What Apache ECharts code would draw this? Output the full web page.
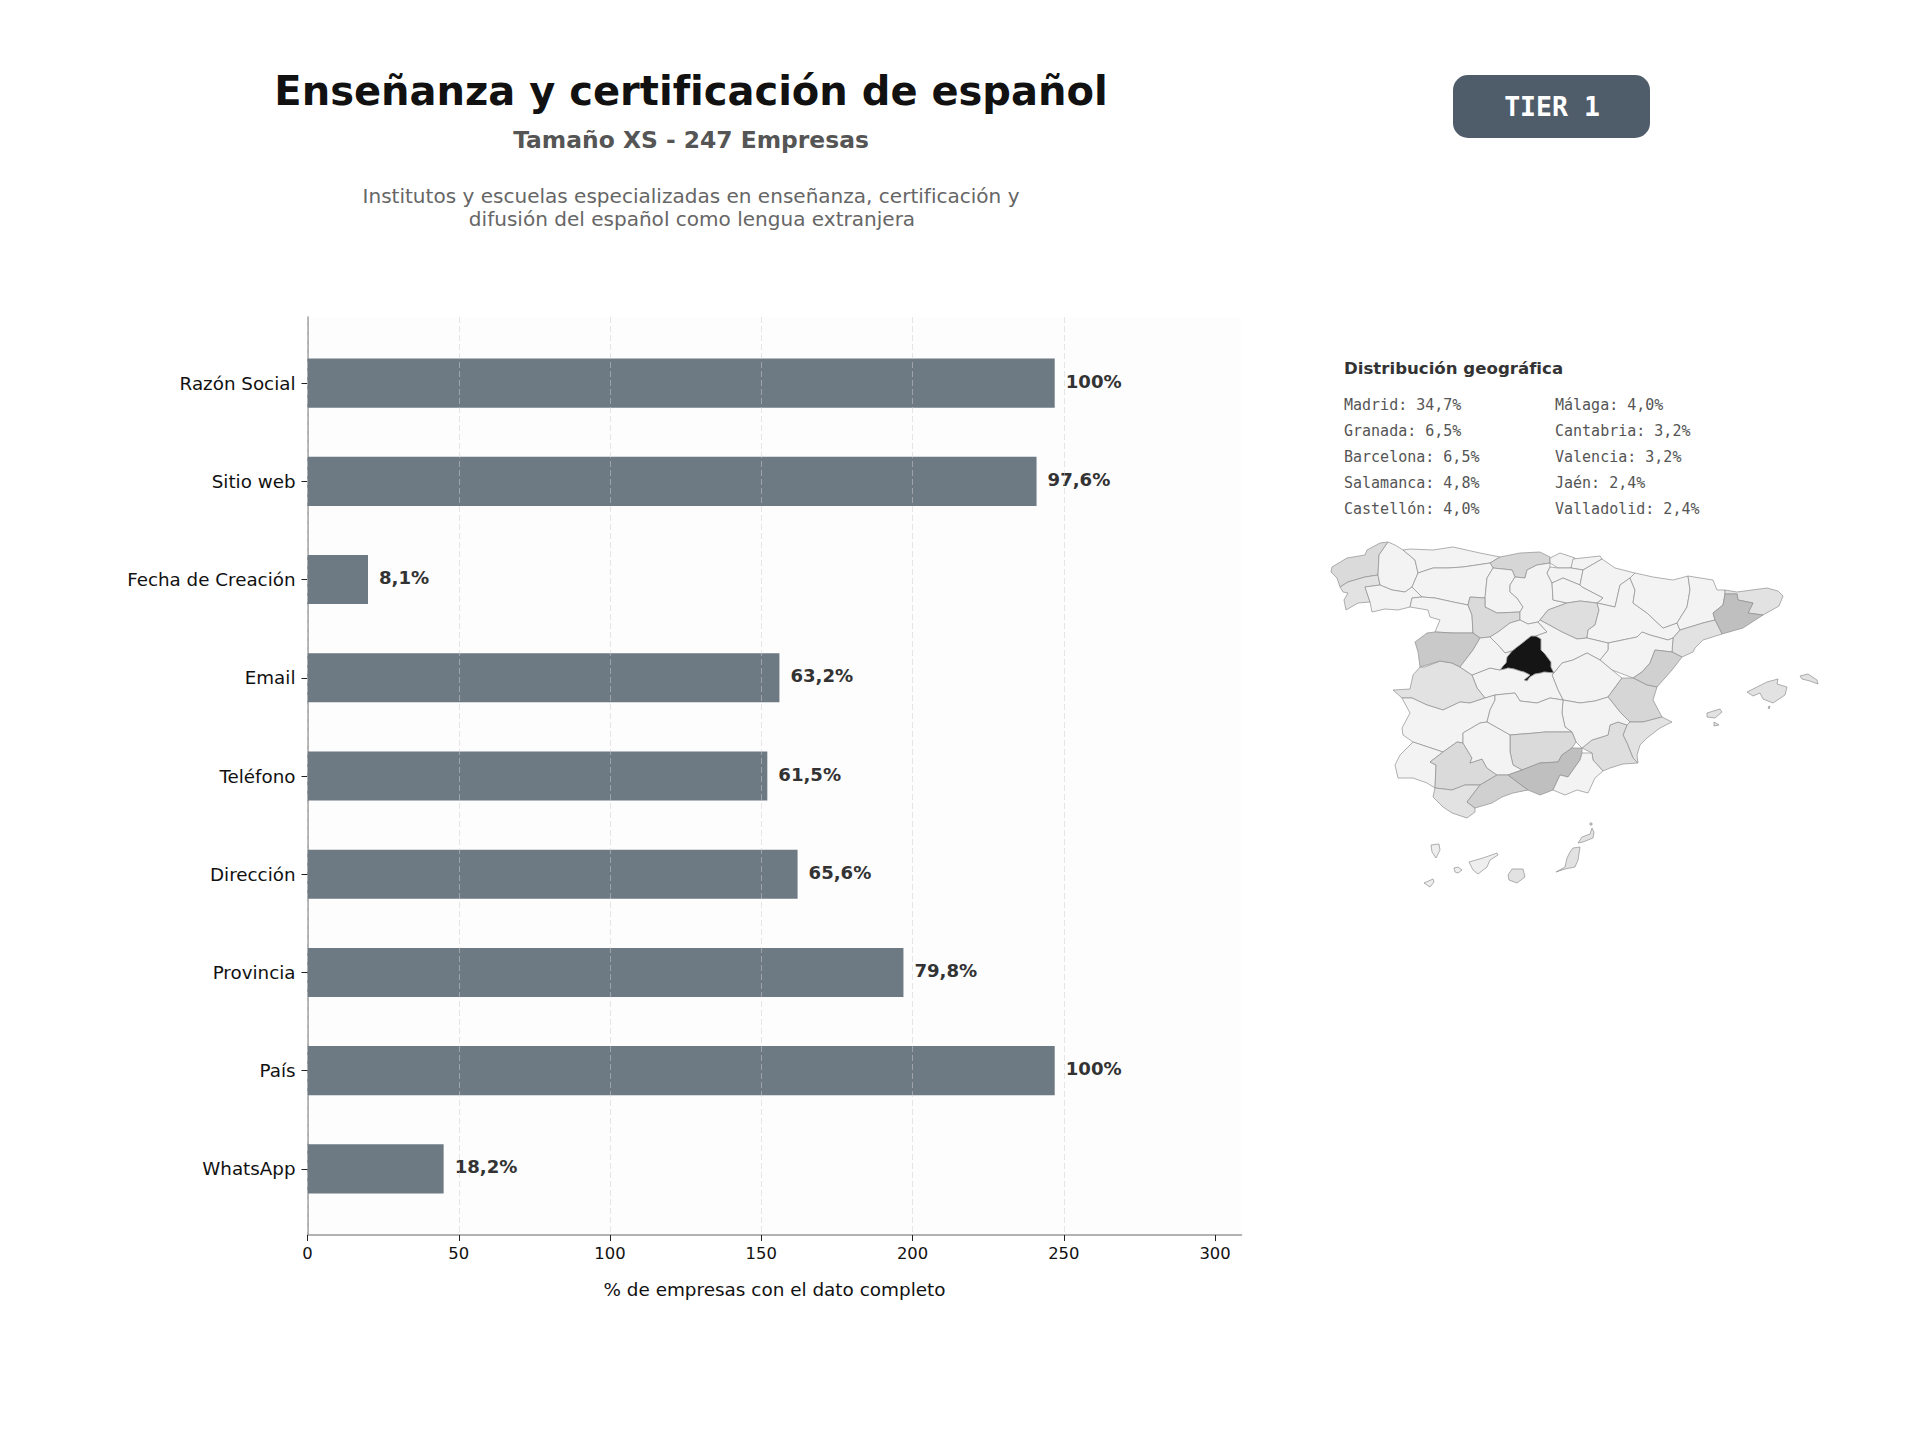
<!DOCTYPE html>
<html lang="es">
<head>
<meta charset="utf-8">
<title>Enseñanza y certificación de español</title>
<style>html,body{margin:0;padding:0;background:#fff}#c{width:1920px;height:1440px}</style>
<script src="https://cdn.jsdelivr.net/npm/echarts@6/dist/echarts.min.js"></script>
</head>
<body>
<div id="c"></div>
<script>
const categories = ['Razón Social','Sitio web','Fecha de Creación','Email','Teléfono','Dirección','Provincia','País','WhatsApp'];
const companyCounts = [247,241,20,156,152,162,197,247,45];
const percentLabels = ['100%','97,6%','8,1%','63,2%','61,5%','65,6%','79,8%','100%','18,2%'];
const xTicks = [0,50,100,150,200,250,300];
const xMax = 308.75;

const topLeft = ['Madrid: 34,7%','Granada: 6,5%','Barcelona: 6,5%','Salamanca: 4,8%','Castellón: 4,0%'];
const topRight = ['Málaga: 4,0%','Cantabria: 3,2%','Valencia: 3,2%','Jaén: 2,4%','Valladolid: 2,4%'];

const provinceShares = {
  'Madrid':34.7,'Granada':6.5,'Barcelona':6.5,'Salamanca':4.8,'Castellón':4.0,'Málaga':4.0,'Cantabria':3.2,'Valencia':3.2,
  'Jaén':2.4,'Valladolid':2.4,'A Coruña':2.4,'Sevilla':2.4,'Soria':2.0,'Murcia':2.0,'Pontevedra':1.6,'Cáceres':1.6,'Alicante':1.6,
  'Baleares':1.6,'Girona':1.6,'Tarragona':1.6,'Cádiz':1.6,'Las Palmas':1.6,'Tenerife':0.8
};
const greyPieces = [
  {gte:30,color:'#151515'},{gte:6,lt:30,color:'#bfbfbf'},{gte:4.5,lt:6,color:'#c9c9c9'},{gte:3.8,lt:4.5,color:'#d0d0d0'},
  {gte:3,lt:3.8,color:'#d6d6d6'},{gte:2.2,lt:3,color:'#dadada'},{gte:1.8,lt:2.2,color:'#dedede'},{gte:1.2,lt:1.8,color:'#e2e2e2'},
  {gte:0.5,lt:1.2,color:'#eeeeee'},{lt:0.5,color:'#f3f3f3'}
];

/* Outlines of the provinces (map geometry only) */
const provinceOutlines = {
  'A Coruña':[[[1388,542],[1380,543],[1367,550],[1365,555],[1347,558],[1332,567],[1331,572],[1337,578],[1340,587],[1348,582],[1365,577],[1378,575],[1379,555]]],
  'Pontevedra':[[[1340,587],[1348,582],[1365,577],[1378,575],[1380,585],[1365,587],[1370,602],[1358,603],[1346,610],[1344,600],[1348,593],[1343,592]]],
  'Lugo':[[[1388,542],[1379,555],[1378,575],[1380,585],[1392,590],[1405,592],[1412,587],[1418,573],[1415,560],[1403,550],[1395,545]]],
  'Asturias':[[[1403,550],[1415,560],[1418,573],[1433,568],[1448,568],[1463,567],[1490,563],[1500,557],[1480,553],[1453,547],[1433,550],[1410,549]]],
  'Cantabria':[[[1490,563],[1500,557],[1520,553],[1540,552],[1550,557],[1550,563],[1537,565],[1527,570],[1525,578],[1515,577],[1512,570],[1493,568]]],
  'Ourense':[[[1365,587],[1380,585],[1392,590],[1405,592],[1412,587],[1422,597],[1412,598],[1410,607],[1398,610],[1385,609],[1372,612],[1370,602]]],
  'León':[[[1418,573],[1433,568],[1448,568],[1463,567],[1490,563],[1493,568],[1487,578],[1485,598],[1470,597],[1468,605],[1453,602],[1435,598],[1422,597],[1412,587]]],
  'Zamora':[[[1412,598],[1422,597],[1435,598],[1453,602],[1468,605],[1472,615],[1473,633],[1453,633],[1435,632],[1440,620],[1430,617],[1428,610],[1410,607]]],
  'Palencia':[[[1493,568],[1487,578],[1485,598],[1485,607],[1497,613],[1520,612],[1523,607],[1517,598],[1510,592],[1510,585],[1515,577],[1512,570]]],
  'Valladolid':[[[1470,597],[1485,598],[1485,607],[1497,613],[1520,612],[1520,620],[1510,623],[1498,632],[1490,637],[1480,638],[1473,633],[1472,615],[1468,605]]],
  'Burgos':[[[1515,577],[1525,578],[1527,570],[1537,565],[1550,563],[1550,567],[1547,573],[1552,583],[1553,600],[1567,603],[1548,610],[1540,620],[1538,622],[1528,624],[1520,620],[1520,612],[1523,607],[1517,598],[1510,592],[1510,585]]],
  'Bizkaia':[[[1550,558],[1560,553],[1575,558],[1571,568],[1558,568],[1550,563]]],
  'Gipuzkoa':[[[1573,559],[1600,556],[1602,559],[1583,570],[1571,568]]],
  'Álava':[[[1547,573],[1550,567],[1558,568],[1571,568],[1583,570],[1580,585],[1563,578],[1552,583]]],
  'Navarra':[[[1583,570],[1602,559],[1615,568],[1635,573],[1630,578],[1620,585],[1615,607],[1597,603],[1603,598],[1582,587],[1580,585]]],
  'La Rioja':[[[1552,583],[1563,578],[1580,585],[1582,587],[1603,598],[1597,603],[1580,601],[1567,603],[1553,600]]],
  'Soria':[[[1567,603],[1580,601],[1597,603],[1599,610],[1595,625],[1588,630],[1587,638],[1577,639],[1562,632],[1540,620],[1548,610]]],
  'Zaragoza':[[[1615,607],[1620,585],[1630,578],[1635,590],[1633,603],[1647,613],[1663,628],[1677,623],[1680,630],[1673,638],[1668,640],[1650,635],[1642,632],[1637,637],[1608,643],[1587,638],[1588,630],[1595,625],[1599,610],[1597,603]]],
  'Huesca':[[[1635,573],[1653,577],[1673,580],[1688,576],[1690,590],[1687,607],[1677,623],[1663,628],[1647,613],[1633,603],[1635,590],[1630,578]]],
  'Lleida':[[[1688,576],[1713,580],[1717,590],[1725,590],[1725,594],[1723,605],[1713,613],[1715,620],[1703,623],[1680,630],[1677,623],[1687,607],[1690,590]]],
  'Girona':[[[1725,590],[1737,592],[1767,588],[1778,591],[1783,596],[1779,606],[1763,615],[1748,613],[1753,603],[1738,600],[1737,594],[1725,594]]],
  'Barcelona':[[[1725,594],[1737,594],[1738,600],[1753,603],[1748,613],[1763,615],[1743,628],[1722,634],[1715,620],[1713,613],[1723,605]]],
  'Tarragona':[[[1680,630],[1703,623],[1715,620],[1722,634],[1703,640],[1695,648],[1693,652],[1682,657],[1672,652],[1673,638]]],
  'Teruel':[[[1608,643],[1637,637],[1642,632],[1650,635],[1668,640],[1673,638],[1672,652],[1655,650],[1650,663],[1642,672],[1633,678],[1620,673],[1612,670],[1600,660],[1608,650]]],
  'Castellón':[[[1655,650],[1672,652],[1682,657],[1672,670],[1657,687],[1647,685],[1633,678],[1642,672],[1650,663]]],
  'Madrid':[[[1536,636],[1541,639],[1541,646],[1541,650],[1545,654],[1548,658],[1551,662],[1551,667],[1554,673],[1544,672],[1541,673],[1535,674],[1530,677],[1527,681],[1524,680],[1530,675],[1524,672],[1520,671],[1514,669],[1508,668],[1505,669],[1500,670],[1503,666],[1506,663],[1507,657],[1512,651],[1517,647],[1521,644],[1526,640],[1531,636]]],
  'Segovia':[[[1490,637],[1498,632],[1510,623],[1520,620],[1528,624],[1538,622],[1547,632],[1536,636],[1531,636],[1526,640],[1521,644],[1517,647],[1512,651],[1505,653],[1498,645]]],
  'Guadalajara':[[[1538,622],[1540,620],[1562,632],[1577,639],[1587,638],[1608,643],[1608,650],[1600,660],[1587,653],[1573,660],[1562,663],[1554,673],[1551,667],[1551,662],[1548,658],[1545,654],[1541,650],[1541,646],[1541,639],[1536,636],[1547,632]]],
  'Cuenca':[[[1562,663],[1573,660],[1587,653],[1600,660],[1612,670],[1622,678],[1608,697],[1595,701],[1580,703],[1563,700],[1558,690],[1552,675],[1554,673]]],
  'Valencia':[[[1622,678],[1633,678],[1647,685],[1657,687],[1653,700],[1662,717],[1643,722],[1630,722],[1620,712],[1608,697]]],
  'Alicante':[[[1630,722],[1643,722],[1662,717],[1672,722],[1660,728],[1647,738],[1640,745],[1637,755],[1638,763],[1633,758],[1627,743],[1623,735],[1627,725]]],
  'Murcia':[[[1582,748],[1592,740],[1608,735],[1610,725],[1618,722],[1627,725],[1623,735],[1627,743],[1633,758],[1638,763],[1623,764],[1610,768],[1603,771],[1593,760],[1592,753]]],
  'Albacete':[[[1563,700],[1580,703],[1595,701],[1608,697],[1620,712],[1630,722],[1627,725],[1618,722],[1610,725],[1608,735],[1592,740],[1582,748],[1576,742],[1572,732],[1565,727],[1562,713]]],
  'Toledo':[[[1472,675],[1490,668],[1500,670],[1505,669],[1508,668],[1514,669],[1520,671],[1524,672],[1530,675],[1524,680],[1527,681],[1530,677],[1535,674],[1541,673],[1544,672],[1554,673],[1552,675],[1558,690],[1563,700],[1550,698],[1537,703],[1520,701],[1515,693],[1495,695],[1485,698],[1477,688]]],
  'Cáceres':[[[1393,690],[1410,689],[1413,675],[1420,667],[1425,667],[1440,661],[1452,663],[1460,667],[1472,675],[1477,688],[1485,698],[1470,703],[1460,702],[1443,710],[1427,705],[1412,698],[1402,698]]],
  'Salamanca':[[[1415,642],[1427,633],[1435,632],[1453,633],[1473,633],[1480,638],[1473,650],[1460,667],[1452,663],[1440,661],[1420,667],[1418,652]]],
  'Ávila':[[[1473,650],[1480,638],[1490,637],[1498,645],[1505,653],[1512,651],[1507,657],[1506,663],[1503,666],[1500,670],[1490,668],[1472,675],[1460,667]]],
  'Badajoz':[[[1402,698],[1412,698],[1427,705],[1443,710],[1460,702],[1470,703],[1485,698],[1495,695],[1495,700],[1490,710],[1487,722],[1480,723],[1463,733],[1463,743],[1457,742],[1443,752],[1413,742],[1403,735],[1402,728],[1410,713]]],
  'Ciudad Real':[[[1495,695],[1515,693],[1520,701],[1537,703],[1550,698],[1563,700],[1562,713],[1565,727],[1572,732],[1545,732],[1535,733],[1510,735],[1487,722],[1490,710],[1495,700]]],
  'Jaén':[[[1510,735],[1535,733],[1545,732],[1572,732],[1576,742],[1572,748],[1562,755],[1558,762],[1540,763],[1522,770],[1513,765],[1510,752]]],
  'Huelva':[[[1395,765],[1400,755],[1413,742],[1443,752],[1430,762],[1436,765],[1435,788],[1427,783],[1413,778],[1398,778]]],
  'Sevilla':[[[1443,752],[1457,742],[1463,743],[1472,758],[1470,763],[1482,759],[1487,768],[1497,775],[1480,785],[1465,785],[1452,790],[1435,788],[1436,765],[1430,762]]],
  'Córdoba':[[[1463,733],[1480,723],[1487,722],[1510,735],[1510,752],[1513,765],[1522,770],[1508,775],[1497,775],[1487,768],[1482,759],[1470,763],[1472,758],[1463,743]]],
  'Cádiz':[[[1435,788],[1452,790],[1465,785],[1480,785],[1467,802],[1475,808],[1475,812],[1467,818],[1452,813],[1443,807],[1433,797]]],
  'Málaga':[[[1480,785],[1497,775],[1508,775],[1528,790],[1513,793],[1502,797],[1492,803],[1475,808],[1467,802]]],
  'Granada':[[[1508,775],[1522,770],[1540,763],[1558,762],[1562,755],[1572,748],[1582,748],[1582,753],[1580,760],[1568,777],[1560,775],[1553,790],[1540,795],[1528,790]]],
  'Almería':[[[1582,753],[1592,753],[1593,760],[1603,771],[1595,778],[1588,793],[1577,790],[1565,795],[1553,790],[1560,775],[1568,777],[1580,760]]],
  'Baleares':[
    [[1747,692],[1767,682],[1778,679],[1777,684],[1787,687],[1785,695],[1773,703],[1763,699],[1760,693],[1753,696]],
    [[1800,676],[1808,674],[1817,680],[1818,684],[1810,681],[1802,679]],
    [[1707,713],[1720,709],[1722,712],[1715,718],[1707,717]],
    [[1714,722],[1719,725],[1714,726]],
    [[1768,707],[1770,706],[1769,709]]
  ],
  'Tenerife':[
    [[1469,862],[1483,858],[1497,853],[1498,855],[1490,860],[1487,867],[1478,874],[1473,870]],
    [[1431,845],[1439,844],[1440,850],[1436,858],[1432,852]],
    [[1454,868],[1458,867],[1462,870],[1458,873],[1455,872]],
    [[1424,883],[1433,879],[1434,882],[1430,887]]
  ],
  'Las Palmas':[
    [[1512,869],[1523,869],[1525,877],[1517,883],[1509,880],[1508,875]],
    [[1573,848],[1580,847],[1578,860],[1575,867],[1565,869],[1556,872],[1565,867],[1567,858],[1570,852]],
    [[1578,843],[1582,837],[1590,834],[1592,828],[1594,832],[1593,838],[1583,842]],
    [[1590,823],[1592,823],[1592,825],[1590,825]]
  ]
};

const geoJson = {
  type:'FeatureCollection',
  features:Object.keys(provinceOutlines).map(name=>({
    type:'Feature',properties:{name},
    geometry:{type:'MultiPolygon',coordinates:provinceOutlines[name].map(r=>[r])}
  }))
};
echarts.registerMap('espana',geoJson);
const mapData = Object.keys(provinceOutlines).map(name=>({name,value:provinceShares[name]||0}));

const FONT = '"DejaVu Sans"';
const MONO = '"DejaVu Sans Mono"';
const centredTitle=(text,x,y,size,weight,color,family)=>({text,left:x,top:y,textAlign:'center',textVerticalAlign:'middle',padding:0,
  textStyle:{fontFamily:family||FONT,fontSize:size,fontWeight:weight,color}});

const legendText=(lines,x)=>lines.map((t,i)=>({type:'text',x:x,y:404.5+i*26,silent:true,
  style:{text:t,fontFamily:MONO,fontSize:15,fill:'#555555',verticalAlign:'middle'}}));

const chart = echarts.init(document.getElementById('c'),null,{renderer:'svg',width:1920,height:1440});
chart.setOption({
  animation:false,
  backgroundColor:'#ffffff',
  title:[
    centredTitle('Enseñanza y certificación de español',691,91,40,'bold','#111111'),
    centredTitle('Tamaño XS - 247 Empresas',691,140,23.4,'bold','#555555'),
    centredTitle('Institutos y escuelas especializadas en enseñanza, certificación y',691,196,20.05,'normal','#666666'),
    centredTitle('difusión del español como lengua extranjera',692,219,20.05,'normal','#666666'),
    {text:'Distribución geográfica',left:1344,top:368,textVerticalAlign:'middle',padding:0,
     textStyle:{fontFamily:FONT,fontSize:16.6,fontWeight:'bold',color:'#333333'}}
  ],
  grid:[
    {left:307.5,top:317,width:934,height:918,show:true,backgroundColor:'#fdfdfd',borderWidth:0,containLabel:false},
    {left:307.5,top:334,width:934,height:884,containLabel:false}
  ],
  xAxis:[
    {type:'value',gridIndex:0,min:0,max:xMax,interval:50,z:5,
     axisLine:{show:true,lineStyle:{color:'#999999',width:1.5}},
     axisTick:{show:true,length:6,customValues:xTicks,lineStyle:{color:'#222222',width:1}},
     axisLabel:{show:true,customValues:xTicks,margin:10,fontFamily:FONT,fontSize:16.4,color:'#111111'},
     splitLine:{show:true,showMaxLine:false,lineStyle:{type:[6,3],color:'rgba(205,205,205,0.5)',width:1}},
     name:'% de empresas con el dato completo',nameLocation:'middle',nameGap:45,
     nameTextStyle:{fontFamily:FONT,fontSize:18.4,color:'#111111'}},
    {type:'value',gridIndex:1,min:0,max:xMax,show:false}
  ],
  yAxis:[
    {type:'value',gridIndex:0,min:0,max:1,position:'left',
     axisLine:{show:true,lineStyle:{color:'#999999',width:1.5}},axisTick:{show:false},axisLabel:{show:false},splitLine:{show:false}},
    {type:'category',gridIndex:1,data:categories,inverse:true,
     axisLine:{show:false},axisTick:{show:true,alignWithLabel:true,length:6,lineStyle:{color:'#222222',width:1}},
     axisLabel:{margin:12,padding:[3,0,0,0],fontFamily:FONT,fontSize:18.3,color:'#111111'}}
  ],
  visualMap:{type:'piecewise',show:false,seriesIndex:1,pieces:greyPieces},
  series:[
    {type:'bar',xAxisIndex:1,yAxisIndex:1,data:companyCounts,barWidth:'50%',silent:true,
     itemStyle:{color:'#6d7983'},
     label:{show:true,position:'right',distance:11,offset:[0,-2],fontFamily:FONT,fontSize:18.1,fontWeight:'bold',color:'#333333',
       formatter:p=>percentLabels[p.dataIndex]}},
    {type:'map',map:'espana',silent:true,data:mapData,
     projection:{project:p=>p,unproject:p=>p},
     left:1331,top:542,width:487,height:345,
     label:{show:false},
     itemStyle:{borderColor:'#8f8f8f',borderWidth:0.7},
     emphasis:{disabled:true},select:{disabled:true}}
  ],
  graphic:[
    {type:'rect',left:1453,top:75,silent:true,shape:{width:197,height:63,r:15},style:{fill:'#4f5d6b'}},
    {type:'text',x:1552,y:106,silent:true,style:{text:'TIER 1',fontFamily:MONO,fontSize:26.5,fontWeight:'bold',fill:'#ffffff',align:'center',verticalAlign:'middle'}},
    ...legendText(topLeft,1344),
    ...legendText(topRight,1555)
  ]
});
</script>
</body>
</html>
